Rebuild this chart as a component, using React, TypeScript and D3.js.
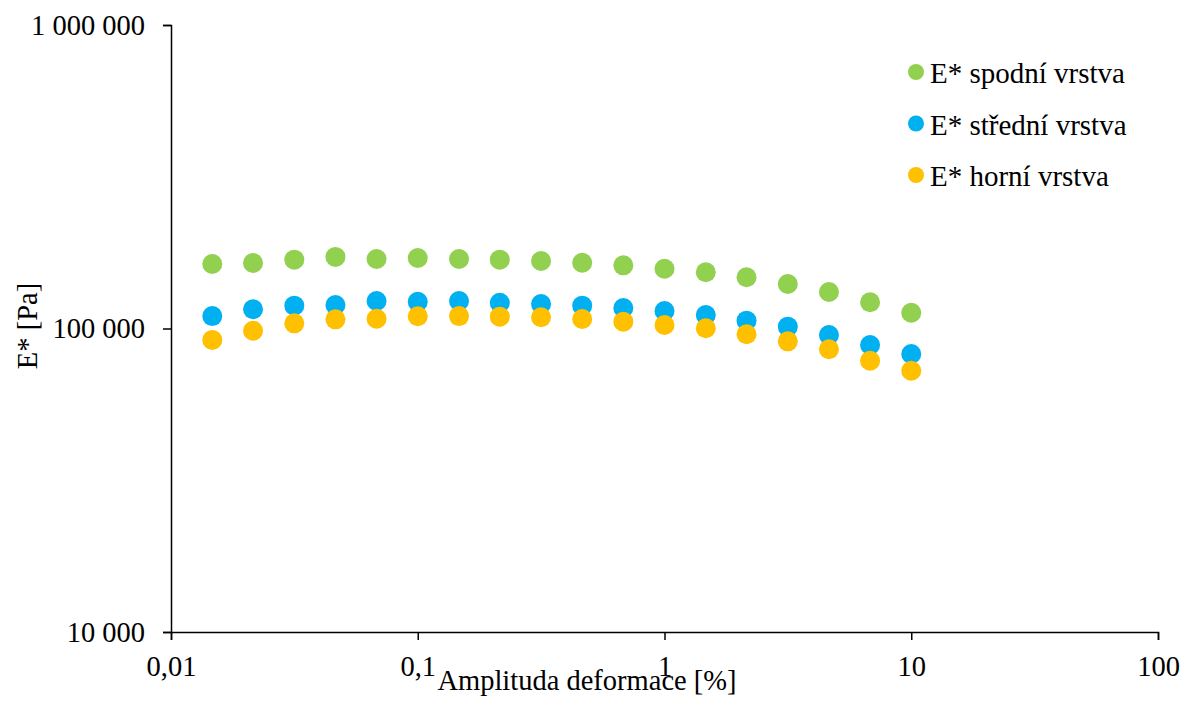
import { useEffect, useRef } from "react";
import * as d3 from "d3";

// amplitude of deformation [%]
const strain = [0.0147, 0.0215, 0.0316, 0.0464, 0.0681, 0.1, 0.147, 0.215, 0.316, 0.464, 0.681, 1, 1.47, 2.15, 3.16, 4.64, 6.81, 10];

// E* [Pa]
const spodni = [163100, 164400, 168600, 172100, 169400, 170700, 169400, 168600, 166900, 164700, 161500, 157400, 153200, 147500, 140200, 131900, 122000, 112700];
const stredni = [109900, 115700, 118900, 119500, 123200, 122500, 123200, 121600, 120400, 118900, 116800, 114200, 110800, 106100, 101400, 95200, 88200, 82400];
const horni = [91700, 98300, 104000, 107200, 107700, 109700, 109900, 109400, 108900, 107500, 105300, 102700, 100200, 95700, 90700, 85400, 78300, 72600];

const seriesNames = ["E* spodní vrstva", "E* střední vrstva", "E* horní vrstva"];
const seriesColors = ["#92D050", "#00B0F0", "#FFC000"];

const xTicks = [0.01, 0.1, 1, 10, 100];
const xTickLabels = ["0,01", "0,1", "1", "10", "100"];
const yTicks = [10000, 100000, 1000000];
const yTickLabels = ["10 000", "100 000", "1 000 000"];

const FONT = "Liberation Serif";

export default function App() {
    const svgRef = useRef<SVGSVGElement>(null);
    const width = 1185, height = 707;

    useEffect(() => {
        const margin = { top: 25, right: 27, bottom: 75, left: 171 },
            wt = width - margin.left - margin.right,
            ht = height - margin.top - margin.bottom;

        d3.select(svgRef.current).selectAll("*").remove();

        const svg = d3.select(svgRef.current)
            .attr("width", width)
            .attr("height", height)
            .append("g")
                .attr("transform", `translate(${margin.left},${margin.top})`);

        const x = d3.scaleLog().domain([0.01, 100]).range([0, wt]);
        const y = d3.scaleLog().domain([10000, 1000000]).range([ht, 0]);

        const xAxis = svg.append("g")
            .attr("transform", `translate(0, ${ht})`)
            .call(d3.axisBottom(x).tickValues(xTicks).tickSize(8).tickPadding(16)
                .tickFormat((d, i) => xTickLabels[i]));
        xAxis.attr("font-family", FONT).attr("font-size", 28.5);
        xAxis.select(".domain").attr("stroke", "#000").attr("stroke-width", 1.5);
        xAxis.selectAll(".tick line").attr("stroke", "#000").attr("stroke-width", 1.5);
        xAxis.selectAll("text").attr("fill", "#000");

        const yAxis = svg.append("g")
            .call(d3.axisLeft(y).tickValues(yTicks).tickSize(8).tickPadding(18)
                .tickFormat((d, i) => yTickLabels[i]));
        yAxis.attr("font-family", FONT).attr("font-size", 28.5);
        yAxis.select(".domain").attr("stroke", "#000").attr("stroke-width", 1.5);
        yAxis.selectAll(".tick line").attr("stroke", "#000").attr("stroke-width", 1.5);
        yAxis.selectAll("text").attr("fill", "#000");

        const all = [spodni, stredni, horni];
        all.forEach((vals, s) => {
            svg.append("g")
                .selectAll("circle")
                .data(strain.map((v, i) => ({ x: v, y: vals[i] })))
                .join("circle")
                    .attr("cx", d => x(d.x))
                    .attr("cy", d => y(d.y))
                    .attr("r", 10)
                    .style("fill", seriesColors[s]);
        });

        // legend
        const legend = svg.append("g")
            .attr("transform", `translate(${916 - margin.left}, ${83 - margin.top})`);
        seriesNames.forEach((name, i) => {
            const row = legend.append("g").attr("transform", `translate(0, ${i * 51.5})`);
            row.append("circle").attr("cy", -11).attr("r", 8).style("fill", seriesColors[i]);
            row.append("text")
                .attr("x", 14)
                .attr("y", 0)
                .attr("font-family", FONT)
                .attr("font-size", 29)
                .text(name);
        });

        // x-axis label
        svg.append("text")
            .attr("text-anchor", "middle")
            .attr("x", 587 - margin.left)
            .attr("y", 690 - margin.top)
            .attr("font-family", FONT)
            .attr("font-size", 28.5)
            .text("Amplituda deformace [%]");

        // y-axis label
        svg.append("text")
            .attr("text-anchor", "middle")
            .attr("transform", "rotate(-90)")
            .attr("y", 37 - margin.left)
            .attr("x", -(326 - margin.top))
            .attr("font-family", FONT)
            .attr("font-size", 28.5)
            .text("E* [Pa]");
    }, []);

    return (
        <div style={{ position: "absolute", left: 0, top: 0 }}>
            <svg ref={svgRef}></svg>
        </div>
    );
}
